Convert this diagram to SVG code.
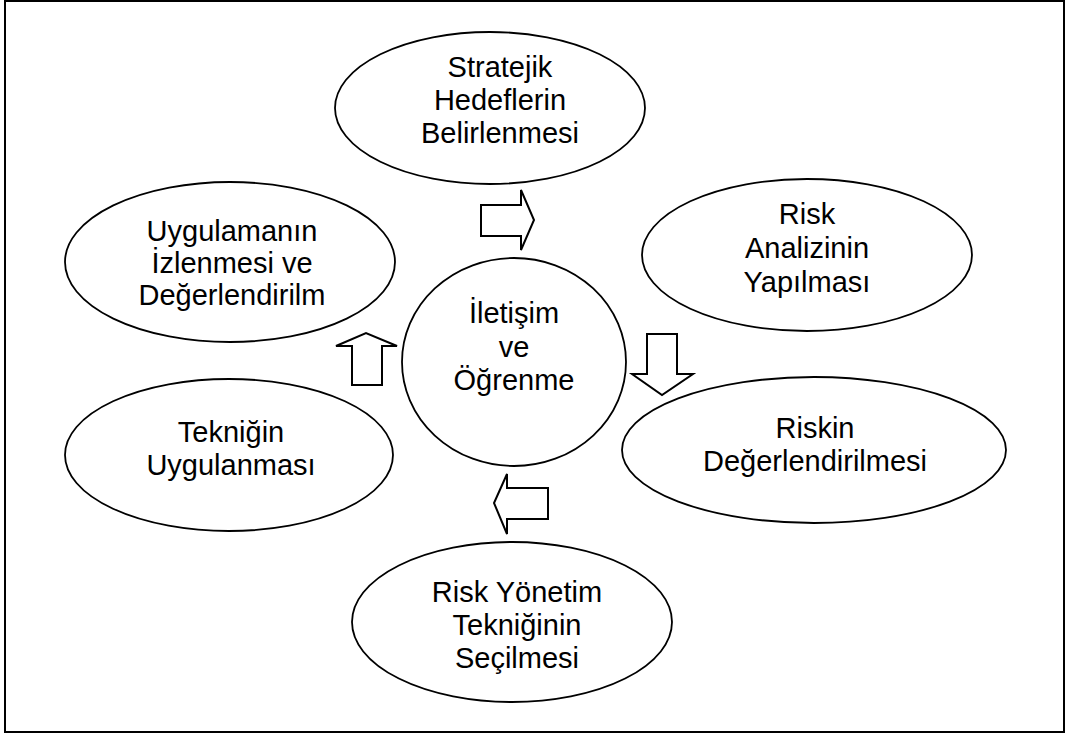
<svg xmlns="http://www.w3.org/2000/svg" width="1067" height="733" viewBox="0 0 1067 733">
  <style>
    .shape { fill: #ffffff; stroke: #000000; stroke-width: 1.8; }
    .arrow { fill: #ffffff; stroke: #000000; stroke-width: 2; stroke-linejoin: miter; }
    .label { font-family: "Liberation Sans", Arial, sans-serif; font-size: 29px; fill: #000000; text-anchor: middle; }
  </style>

  <!-- page frame -->
  <rect x="5" y="1" width="1059" height="731" fill="#ffffff" stroke="#000000" stroke-width="2"/>

  <!-- cycle arrows between the steps -->
  <g id="connectors">
    <polygon class="arrow" points="481,205 521,205 521,190 534,220 521,250 521,236 481,236"/>
    <polygon class="arrow" points="647,334 677,334 677,374 693,374 662,395 632,374 647,374"/>
    <polygon class="arrow" points="548,488 548,519 507,519 507,534 494,503 507,474 507,488"/>
    <polygon class="arrow" points="352,385 382,385 382,346 397,346 366,333 336,346 352,346"/>
  </g>

  <g id="node-strateji">
    <ellipse class="shape" cx="490" cy="108" rx="155" ry="76"/>
    <text class="label" x="500" y="77">Stratejik</text>
    <text class="label" x="500" y="110">Hedeflerin</text>
    <text class="label" x="500" y="143">Belirlenmesi</text>
  </g>

  <g id="node-analiz">
    <ellipse class="shape" cx="807" cy="255" rx="165" ry="76"/>
    <text class="label" x="807" y="224">Risk</text>
    <text class="label" x="807" y="258">Analizinin</text>
    <text class="label" x="807" y="292">Yapılması</text>
  </g>

  <g id="node-degerlendirme">
    <ellipse class="shape" cx="814" cy="450" rx="192" ry="73"/>
    <text class="label" x="815" y="438">Riskin</text>
    <text class="label" x="815" y="471">Değerlendirilmesi</text>
  </g>

  <g id="node-secim">
    <ellipse class="shape" cx="512" cy="622" rx="160" ry="80"/>
    <text class="label" x="517" y="602">Risk Yönetim</text>
    <text class="label" x="517" y="635">Tekniğinin</text>
    <text class="label" x="517" y="668">Seçilmesi</text>
  </g>

  <g id="node-uygulama">
    <ellipse class="shape" cx="229" cy="455" rx="164" ry="76"/>
    <text class="label" x="231" y="442">Tekniğin</text>
    <text class="label" x="231" y="475">Uygulanması</text>
  </g>

  <g id="node-izleme">
    <ellipse class="shape" cx="230" cy="262" rx="165" ry="80"/>
    <text class="label" x="232" y="241">Uygulamanın</text>
    <text class="label" x="232" y="273">İzlenmesi ve</text>
    <text class="label" x="232" y="305">Değerlendirilm</text>
  </g>

  <g id="node-iletisim">
    <ellipse class="shape" cx="514" cy="362" rx="112" ry="104"/>
    <text class="label" x="514" y="323">İletişim</text>
    <text class="label" x="514" y="357">ve</text>
    <text class="label" x="514" y="390">Öğrenme</text>
  </g>
</svg>
